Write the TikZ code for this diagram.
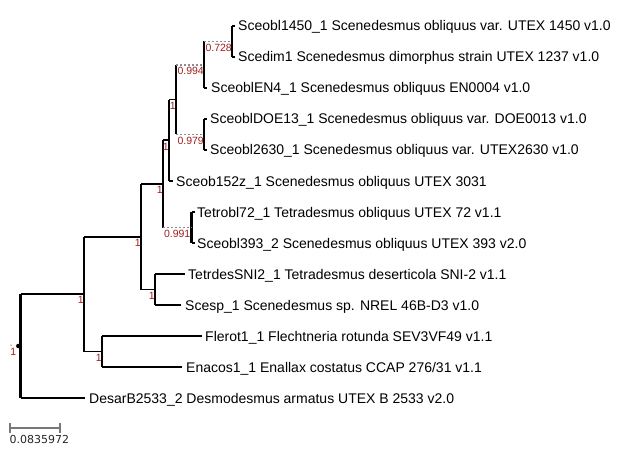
\documentclass[tikz,border=0pt]{standalone}
\usepackage{fontspec}
\setmainfont{Liberation Sans}
\newfontfamily\scalefnt{DejaVu Sans}
\definecolor{suppred}{RGB}{160,30,30}
\definecolor{dotgray}{RGB}{140,140,140}
\definecolor{bargray}{RGB}{120,120,120}
\begin{document}
\begin{tikzpicture}[x=1pt,y=-1pt,
  hz/.style={line width=1.8pt,black},
  vt/.style={line width=2.2pt,black},
  dotb/.style={line width=1.6pt,dotgray,dash pattern=on 1.5pt off 2.5pt},
  leaf/.style={anchor=base west,inner sep=0pt,font=\fontsize{14}{16}\selectfont},
  supp/.style={anchor=north east,inner sep=0pt,text=suppred,font=\fontsize{10.5}{12}\selectfont}]
\useasboundingbox (0,0) rectangle (618,473);
% internal nodes
\coordinate (R) at (20.5,346);
\coordinate (A) at (84,294);
\coordinate (B) at (141,236.7);
\coordinate (C) at (102,351.5);
\coordinate (D) at (155,289.5);
\coordinate (F) at (163,183.9);
\coordinate (G) at (169,140.3);
\coordinate (H) at (191.5,227.5);
\coordinate (I) at (176,99.6);
\coordinate (J) at (204,64.75);
\coordinate (K) at (204,134.5);
\coordinate (L) at (232,41.5);
% leaf tips
\coordinate (t1) at (235,26);
\coordinate (t2) at (235,57);
\coordinate (t3) at (207,88);
\coordinate (t4) at (207,119);
\coordinate (t5) at (207,150);
\coordinate (t6) at (173,181);
\coordinate (t7) at (194.5,212);
\coordinate (t8) at (194.5,243);
\coordinate (t9) at (185,274);
\coordinate (t10) at (181,305);
\coordinate (t11) at (202,336);
\coordinate (t12) at (182,367);
\coordinate (t13) at (85,398);
% leaf labels
\node[leaf] (l1) at (238,31) {Sceobl1450\_1 Scenedesmus obliquus var. UTEX 1450 v1.0};
\node[leaf] (l2) at (238,62) {Scedim1 Scenedesmus dimorphus strain UTEX 1237 v1.0};
\node[leaf] (l3) at (211,93) {SceoblEN4\_1 Scenedesmus obliquus EN0004 v1.0};
\node[leaf] (l4) at (210,124) {SceoblDOE13\_1 Scenedesmus obliquus var. DOE0013 v1.0};
\node[leaf] (l5) at (210,155) {Sceobl2630\_1 Scenedesmus obliquus var. UTEX2630 v1.0};
\node[leaf] (l6) at (176,186) {Sceob152z\_1 Scenedesmus obliquus UTEX 3031};
\node[leaf] (l7) at (197,217) {Tetrobl72\_1 Tetradesmus obliquus UTEX 72 v1.1};
\node[leaf] (l8) at (197,248) {Sceobl393\_2 Scenedesmus obliquus UTEX 393 v2.0};
\node[leaf] (l9) at (188,279) {TetrdesSNI2\_1 Tetradesmus deserticola SNI-2 v1.1};
\node[leaf] (l10) at (185,310) {Scesp\_1 Scenedesmus sp. NREL 46B-D3 v1.0};
\node[leaf] (l11) at (205,341) {Flerot1\_1 Flechtneria rotunda SEV3VF49 v1.1};
\node[leaf] (l12) at (186,372) {Enacos1\_1 Enallax costatus CCAP 276/31 v1.1};
\node[leaf] (l13) at (89,403) {DesarB2533\_2 Desmodesmus armatus UTEX B 2533 v2.0};
% vertical lines
\draw[vt] (R|-A) -- (R|-t13);
\draw[vt] (A|-B) -- (A|-C);
\draw[vt] (B|-F) -- (B|-D);
\draw[vt] (C|-t11) -- (C|-t12);
\draw[vt] (D|-t9) -- (D|-t10);
\draw[vt] (F|-G) -- (F|-H);
\draw[vt] (G|-I) -- (G|-t6);
\draw[vt] (H|-t7) -- (H|-t8);
\draw[vt] (I|-J) -- (I|-K);
\draw[vt] (J|-L) -- (J|-t3);
\draw[vt] (K|-t4) -- (K|-t5);
\draw[vt] (L|-t1) -- (L|-t2);
% horizontal branches
\draw[hz] (R|-A) -- (A);
\draw[hz] (R|-t13) -- (t13);
\draw[hz] (A|-B) -- (B);
\draw[hz] (A|-C) -- (C);
\draw[hz] (B|-F) -- (F);
\draw[hz] (B|-D) -- (D);
\draw[hz] (C|-t11) -- (t11);
\draw[hz] (C|-t12) -- (t12);
\draw[hz] (D|-t9) -- (t9);
\draw[hz] (D|-t10) -- (t10);
\draw[hz] (F|-G) -- (G);
\draw[dotb] (F|-H) -- (H);
\draw[hz] (G|-I) -- (I);
\draw[hz] (G|-t6) -- (t6);
\draw[hz] (H|-t7) -- (t7);
\draw[hz] (H|-t8) -- (t8);
\draw[dotb] (I|-J) -- (J);
\draw[dotb] (I|-K) -- (K);
\draw[dotb] (J|-L) -- (L);
\draw[hz] (J|-t3) -- (t3);
\draw[hz] (K|-t4) -- (t4);
\draw[hz] (K|-t5) -- (t5);
\draw[hz] (L|-t1) -- (t1);
\draw[hz] (L|-t2) -- (t2);
% root marker
\node[circle,fill=black,inner sep=0pt,minimum size=4.5pt] (rootdot) at (18.3,346) {};
\node[circle,fill=dotgray,inner sep=0pt,minimum size=1.5pt] (rootstub) at (11,345) {};
% support values
\node[supp] (sR) at (16.5,348.5) {1};
\node[supp] (sA) at (84,296.5) {1};
\node[supp] (sB) at (141,239.2) {1};
\node[supp] (sC) at (102,354) {1};
\node[supp] (sD) at (155,292) {1};
\node[supp] (sF) at (163,186.4) {1};
\node[supp] (sG) at (169,142.8) {1};
\node[supp] (sH) at (190.5,230) {0.991};
\node[supp] (sI) at (176,102.1) {1};
\node[supp] (sJ) at (204,67.25) {0.994};
\node[supp] (sK) at (204,137) {0.979};
\node[supp] (sL) at (232,44) {0.728};
% scale bar
\coordinate (s0) at (10,428);
\coordinate (s1) at (60,428);
\draw[bargray,line width=1.2pt] (s0) -- (s1);
\draw[bargray,line width=1.2pt] ([yshift=-5pt]s0) -- ([yshift=5pt]s0);
\draw[bargray,line width=1.2pt] ([yshift=-5pt]s1) -- ([yshift=5pt]s1);
\node[anchor=north west,inner sep=0pt,text=black!85,font=\scalefnt\fontsize{11}{13}\selectfont] (scalelabel) at (9.5,435) {0.0835972};
\end{tikzpicture}
\end{document}
